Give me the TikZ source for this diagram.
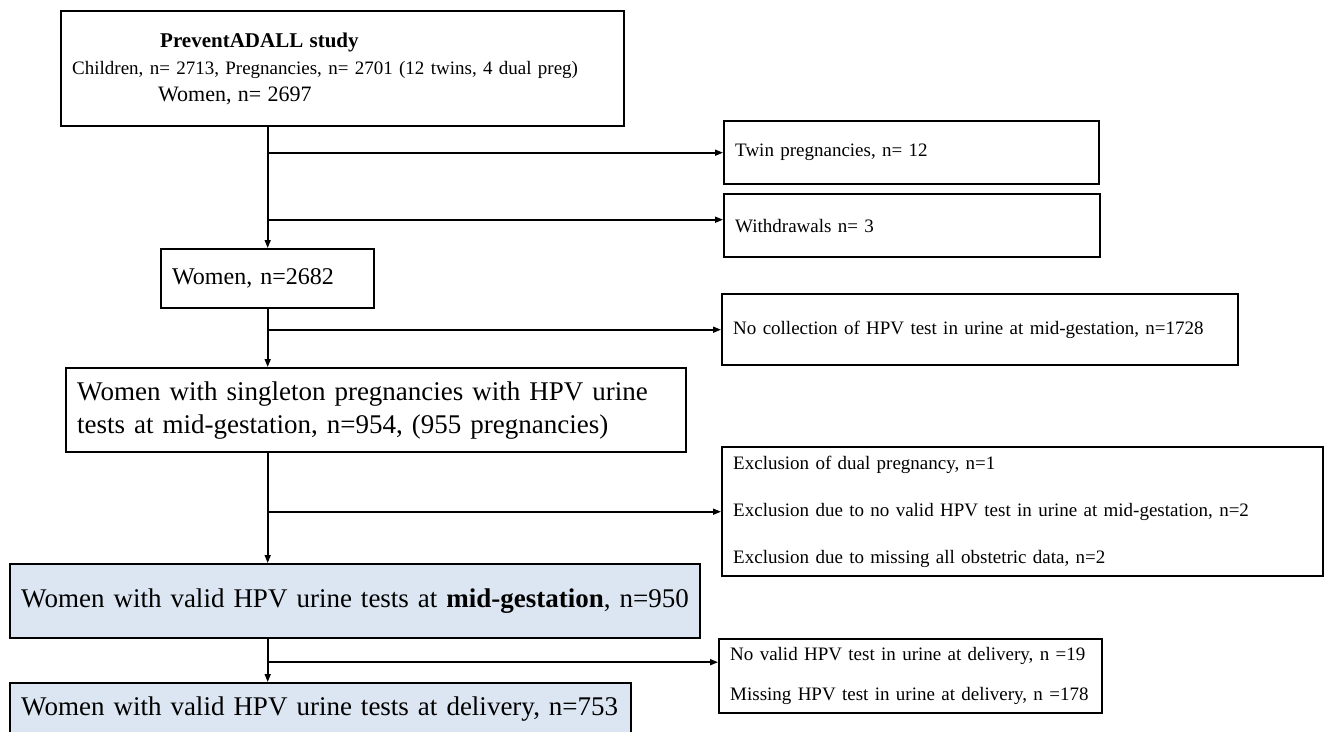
\documentclass[tikz,border=0pt]{standalone}
\usepackage{fontspec}
\setmainfont{Liberation Serif}
\usetikzlibrary{positioning,arrows.meta}
\definecolor{paleblue}{RGB}{220,230,242}

\begin{document}
\begin{tikzpicture}[x=1pt,y=-1pt,
  box/.style={draw,line width=2.4pt,anchor=north west,align=left,inner xsep=11pt,inner ysep=0pt},
  small/.style={font=\fontsize{19}{23}\selectfont},
  big/.style={font=\fontsize{27}{33}\selectfont},
  link/.style={line width=1.6pt,-{Triangle[length=8pt,width=6pt]}}]
  \useasboundingbox (0,0) rectangle (1325,731);

  % main column
  \node[box,font=\fontsize{19}{27}\selectfont,text width=541pt,minimum height=115pt] (study) at (60,10)
    {{\fontsize{21}{25}\selectfont\hspace*{88pt}\textbf{PreventADALL study}}\\
     Children, n= 2713, Pregnancies, n= 2701 (12 twins, 4 dual preg)\\
     {\fontsize{22}{25}\selectfont\hspace*{86pt}Women, n= 2697}};
  \node[box,font=\fontsize{24}{28}\selectfont,text width=191pt,minimum height=59pt] (women) at (160,248) {Women, n=2682};
  \node[box,big,text width=598pt,minimum height=84pt] (single) at (65,367)
    {Women with singleton pregnancies with HPV urine\\ tests at mid-gestation, n=954, (955 pregnancies)};
  \node[box,big,fill=paleblue,text width=668pt,minimum height=74pt] (midgest) at (9,563)
    {Women with valid HPV urine tests at \textbf{mid-gestation}, n=950};
  \node[box,big,fill=paleblue,text width=599pt,minimum height=52pt] (delivery) at (9,682)
    {Women with valid HPV urine tests at delivery, n=753};

  % exclusions
  \node[box,small,text width=353pt,minimum height=63pt] (twin) at (723,120) {Twin pregnancies, n= 12};
  \node[box,small,text width=354pt,minimum height=63pt] (withdraw) at (723,193) {Withdrawals n= 3};
  \node[box,small,text width=494pt,minimum height=71pt] (nocoll) at (721,293)
    {No collection of HPV test in urine at mid-gestation, n=1728};
  \node[box,font=\fontsize{19}{47}\selectfont,text width=579pt,minimum height=129pt] (excl) at (721,446)
    {Exclusion of dual pregnancy, n=1\\
     Exclusion due to no valid HPV test in urine at mid-gestation, n=2\\
     Exclusion due to missing all obstetric data, n=2};
  \node[box,font=\fontsize{19}{40}\selectfont,text width=361pt,minimum height=74pt] (delexcl) at (718,638)
    {No valid HPV test in urine at delivery, n =19\\
     Missing HPV test in urine at delivery, n =178};

  % arrows
  \draw[link] (study.south -| women) -- (women.north);
  \draw[link] (twin.west -| women) -- (twin.west);
  \draw[link] ([yshift=6pt]withdraw.west -| women) -- ([yshift=6pt]withdraw.west);
  \draw[link] (women.south) -- (women.south |- single.north);
  \draw[link] (nocoll.west -| women) -- (nocoll.west);
  \draw[link] (single.south -| women) -- (midgest.north -| women);
  \draw[link] (excl.west -| women) -- (excl.west);
  \draw[link] (midgest.south -| women) -- (delivery.north -| women);
  \draw[link] ([yshift=14pt]delexcl.west -| women) -- ([yshift=14pt]delexcl.west);
\end{tikzpicture}
\end{document}
